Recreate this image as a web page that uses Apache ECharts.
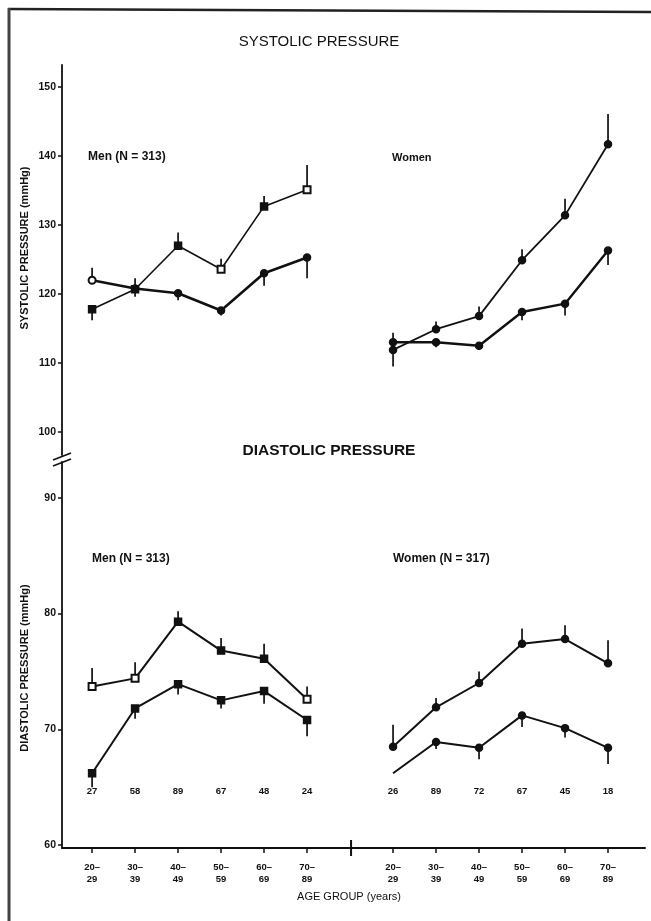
<!DOCTYPE html>
<html>
<head>
<meta charset="utf-8">
<script src="https://cdn.jsdelivr.net/npm/echarts@6/dist/echarts.min.js"></script>
<style>
  html, body { margin: 0; padding: 0; background: #fff; }
  #chart { width: 651px; height: 921px; }
</style>
</head>
<body>
<div id="chart"></div>
<script>
// ---------- data ----------
const ageLabels = ['20–\n29', '30–\n39', '40–\n49', '50–\n59', '60–\n69', '70–\n89'];
const menN = [27, 58, 89, 67, 48, 24];
const womenN = [26, 89, 72, 67, 45, 18];

const sysTicks = [100, 110, 120, 130, 140, 150];
const diaTicks = [60, 70, 80, 90];

// systolic, men
const sysMenA = [122.0, 120.8, 120.1, 117.6, 123.0, 125.3];
const sysMenAErr = [123.8, 122.3, 119.1, 116.9, 121.2, 122.3];
const sysMenB = [117.8, 120.7, 127.0, 123.6, 132.7, 135.1];
const sysMenBErr = [116.2, 119.6, 128.9, 125.1, 134.2, 138.7];
// systolic, women
const sysWomenA = [111.9, 114.9, 116.8, 124.9, 131.4, 141.7];
const sysWomenAErr = [109.5, 116.0, 118.2, 126.5, 133.8, 146.1];
const sysWomenB = [113.0, 113.0, 112.5, 117.4, 118.6, 126.3];
const sysWomenBErr = [114.4, 112.3, 111.9, 116.2, 116.9, 124.2];
// diastolic, men
const diaMenA = [73.7, 74.4, 79.3, 76.8, 76.1, 72.6];
const diaMenAErr = [75.3, 75.8, 80.2, 77.9, 77.4, 73.7];
const diaMenB = [66.2, 71.8, 73.9, 72.5, 73.3, 70.8];
const diaMenBErr = [65.0, 70.9, 73.0, 71.8, 72.2, 69.4];
// diastolic, women
const diaWomenA = [68.5, 71.9, 74.0, 77.4, 77.8, 75.7];
const diaWomenAErr = [70.4, 72.7, 75.0, 78.7, 79.0, 77.7];
const diaWomenB = [66.2, 68.9, 68.4, 71.2, 70.1, 68.4];
const diaWomenBErr = [null, 68.3, 67.4, 70.2, 69.3, 67.0];

// ---------- layout / style ----------
const INK = '#111';
const FONT = '"Liberation Sans", Arial, sans-serif';
const menX = ageLabels.map((_, i) => i);
const womenX = ageLabels.map((_, i) => i + 7);
const xTicks = menX.concat(womenX);
const X_MIN = -0.7, X_MAX = 12.86;
const SYS_MIN = 96.67, SYS_MAX = 153.19;
const DIA_MIN = 59.74, DIA_MAX = 93.1;

function pts(xs, ys) { return ys.map((v, i) => [xs[i], v]); }
function errs(xs, ys, es) {
  return ys.map((v, i) => [xs[i], v, es[i]]).filter(d => d[2] != null);
}

function lineSeries(grid, xs, ys, width, symbol, openIdx, noSymIdx) {
  openIdx = openIdx || [];
  noSymIdx = noSymIdx || [];
  return {
    type: 'line',
    xAxisIndex: grid, yAxisIndex: grid,
    data: pts(xs, ys),
    symbol: (val, p) => noSymIdx.includes(p.dataIndex) ? 'none'
      : (openIdx.includes(p.dataIndex) ? 'empty' + symbol[0].toUpperCase() + symbol.slice(1) : symbol),
    symbolSize: 7,
    showSymbol: true,
    itemStyle: { color: INK, borderColor: INK, borderWidth: 1.5 },
    lineStyle: { color: INK, width: width },
    z: 3,
    animation: false
  };
}

function errSeries(grid, xs, ys, es) {
  return {
    type: 'custom',
    xAxisIndex: grid, yAxisIndex: grid,
    data: errs(xs, ys, es),
    encode: { x: 0, y: [1, 2] },
    clip: false,
    renderItem: (params, api) => {
      const a = api.coord([api.value(0), api.value(1)]);
      const b = api.coord([api.value(0), api.value(2)]);
      return { type: 'line', shape: { x1: a[0], y1: a[1], x2: b[0], y2: b[1] },
               style: { stroke: INK, lineWidth: 1.7 } };
    },
    z: 2,
    animation: false
  };
}

const xAxisCommon = {
  type: 'value', min: X_MIN, max: X_MAX,
  splitLine: { show: false }
};

const yLabelStyle = { margin: 6, color: INK, fontFamily: FONT, fontWeight: 'bold', fontSize: 10.5 };

const option = {
  backgroundColor: '#fff',
  animation: false,
  grid: [
    { left: 62, right: 6, top: 65, height: 390 },
    { left: 62, right: 6, top: 462, height: 386 }
  ],
  xAxis: [
    Object.assign({}, xAxisCommon, { gridIndex: 0, show: false }),
    Object.assign({}, xAxisCommon, {
      gridIndex: 1,
      axisLine: { show: true, onZero: false, lineStyle: { color: INK, width: 2 } },
      axisTick: { show: true, length: 5, customValues: xTicks, lineStyle: { color: INK, width: 1.5 } },
      axisLabel: {
        show: true, customValues: xTicks, margin: 13,
        formatter: v => ageLabels[v >= 7 ? v - 7 : v],
        color: INK, fontFamily: FONT, fontWeight: 'bold', fontSize: 9.5, lineHeight: 12
      }
    })
  ],
  yAxis: [
    {
      type: 'value', gridIndex: 0, min: SYS_MIN, max: SYS_MAX,
      splitLine: { show: false },
      axisLine: { show: true, onZero: false, lineStyle: { color: INK, width: 1.8 } },
      axisTick: { show: true, length: 4, customValues: sysTicks, lineStyle: { color: INK, width: 1.5 } },
      axisLabel: Object.assign({ customValues: sysTicks }, yLabelStyle)
    },
    {
      type: 'value', gridIndex: 1, min: DIA_MIN, max: DIA_MAX,
      splitLine: { show: false },
      axisLine: { show: true, onZero: false, lineStyle: { color: INK, width: 1.8 } },
      axisTick: { show: true, length: 4, customValues: diaTicks, lineStyle: { color: INK, width: 1.5 } },
      axisLabel: Object.assign({ customValues: diaTicks }, yLabelStyle)
    }
  ],
  series: [
    // systolic
    lineSeries(0, menX, sysMenA, 2.6, 'circle', [0]),
    lineSeries(0, menX, sysMenB, 1.6, 'rect', [3, 5]),
    lineSeries(0, womenX, sysWomenA, 1.8, 'circle'),
    lineSeries(0, womenX, sysWomenB, 2.4, 'circle'),
    errSeries(0, menX, sysMenA, sysMenAErr),
    errSeries(0, menX, sysMenB, sysMenBErr),
    errSeries(0, womenX, sysWomenA, sysWomenAErr),
    errSeries(0, womenX, sysWomenB, sysWomenBErr),
    // diastolic
    lineSeries(1, menX, diaMenA, 2, 'rect', [0, 1, 5]),
    lineSeries(1, menX, diaMenB, 2, 'rect'),
    lineSeries(1, womenX, diaWomenA, 2, 'circle'),
    lineSeries(1, womenX, diaWomenB, 2, 'circle', [], [0]),
    errSeries(1, menX, diaMenA, diaMenAErr),
    errSeries(1, menX, diaMenB, diaMenBErr),
    errSeries(1, womenX, diaWomenA, diaWomenAErr),
    errSeries(1, womenX, diaWomenB, diaWomenBErr),
    // sample sizes above the age axis
    {
      type: 'custom', xAxisIndex: 1, yAxisIndex: 1,
      data: xTicks.map((x, i) => [x, menN.concat(womenN)[i]]),
      encode: { x: 0 },
      clip: false,
      renderItem: (params, api) => {
        const p = api.coord([api.value(0), DIA_MIN]);
        return { type: 'text', x: p[0], y: p[1] - 57,
                 style: { text: String(api.value(1)), fill: INK, font: 'bold 9.5px ' + FONT,
                          align: 'center', verticalAlign: 'middle' } };
      },
      animation: false
    },
    // break mark on the age axis between men and women
    {
      type: 'custom', xAxisIndex: 1, yAxisIndex: 1,
      data: [[6]],
      encode: { x: 0 },
      clip: false,
      renderItem: (params, api) => {
        const p = api.coord([api.value(0), DIA_MIN]);
        return { type: 'line', shape: { x1: p[0] + 1, y1: p[1] - 8, x2: p[0] + 1, y2: p[1] + 8 },
                 style: { stroke: INK, lineWidth: 2 } };
      },
      animation: false
    }
  ],
  graphic: [
    // scanned page frame
    { type: 'line', shape: { x1: 8, y1: 9, x2: 651, y2: 12 }, style: { stroke: '#222', lineWidth: 2.5 } },
    { type: 'line', shape: { x1: 9, y1: 8, x2: 9, y2: 921 }, style: { stroke: '#444', lineWidth: 3 } },
    // y-axis break marks
    { type: 'line', shape: { x1: 53, y1: 460, x2: 71, y2: 453 }, style: { stroke: INK, lineWidth: 1.6 } },
    { type: 'line', shape: { x1: 53, y1: 466, x2: 71, y2: 459 }, style: { stroke: INK, lineWidth: 1.6 } },
    // titles and annotations
    { type: 'text', x: 319, y: 42, style: { text: 'SYSTOLIC PRESSURE', fill: INK, font: '15px ' + FONT,
      align: 'center', verticalAlign: 'middle' } },
    { type: 'text', x: 329, y: 451, style: { text: 'DIASTOLIC PRESSURE', fill: INK, font: 'bold 15.5px ' + FONT,
      align: 'center', verticalAlign: 'middle' } },
    { type: 'text', x: 88, y: 157, style: { text: 'Men (N = 313)', fill: INK, font: 'bold 12px ' + FONT,
      align: 'left', verticalAlign: 'middle' } },
    { type: 'text', x: 392, y: 158, style: { text: 'Women', fill: INK, font: 'bold 11px ' + FONT,
      align: 'left', verticalAlign: 'middle' } },
    { type: 'text', x: 92, y: 559, style: { text: 'Men (N = 313)', fill: INK, font: 'bold 12px ' + FONT,
      align: 'left', verticalAlign: 'middle' } },
    { type: 'text', x: 393, y: 559, style: { text: 'Women (N = 317)', fill: INK, font: 'bold 12px ' + FONT,
      align: 'left', verticalAlign: 'middle' } },
    { type: 'text', x: 349, y: 897, style: { text: 'AGE GROUP (years)', fill: INK, font: '11px ' + FONT,
      align: 'center', verticalAlign: 'middle' } },
    { type: 'text', x: 25, y: 248, rotation: Math.PI / 2,
      style: { text: 'SYSTOLIC PRESSURE (mmHg)', fill: INK, font: 'bold 11px ' + FONT,
               align: 'center', verticalAlign: 'middle' } },
    { type: 'text', x: 25, y: 668, rotation: Math.PI / 2,
      style: { text: 'DIASTOLIC PRESSURE (mmHg)', fill: INK, font: 'bold 11px ' + FONT,
               align: 'center', verticalAlign: 'middle' } }
  ]
};

const chart = echarts.init(document.getElementById('chart'), null, { renderer: 'canvas' });
chart.setOption(option);
</script>
</body>
</html>
